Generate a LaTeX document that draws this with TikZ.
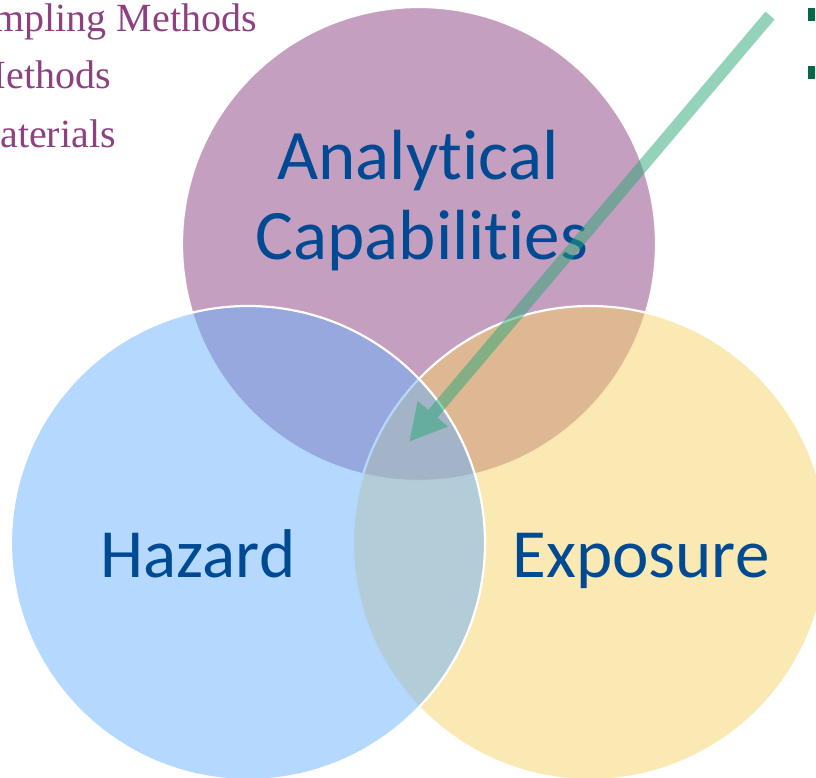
\documentclass[tikz,border=0pt]{standalone}
\usepackage{fontspec}
\setsansfont{Carlito}[Ligatures=NoCommon]
\newfontfamily\listfont{Liberation Serif}
\usetikzlibrary{arrows.meta}

\definecolor{topfill}{HTML}{8B3F7F}
\definecolor{leftfill}{HTML}{6BB1FD}
\definecolor{rightfill}{HTML}{F7D367}
\definecolor{labelblue}{HTML}{004A94}
\definecolor{listpurple}{HTML}{8E4181}
\definecolor{arrowgreen}{HTML}{29A775}
\definecolor{bulletgreen}{HTML}{006B45}

\begin{document}
\begin{tikzpicture}[x=1pt, y=-1pt,
  venn/.style={circle, draw=white, line width=2.2pt, fill opacity=0.5,
    minimum size=474pt, inner sep=0pt},
  toplabel/.style={font=\sffamily\fontsize{71}{79}\selectfont,
    text=labelblue, inner sep=0pt, anchor=base},
  sidelabel/.style={font=\sffamily\fontsize{69}{72}\selectfont,
    text=labelblue, inner sep=0pt, anchor=base},
  listtext/.style={font=\listfont\fontsize{40}{46}\selectfont,
    text=listpurple, inner sep=0pt, anchor=base east},
  bulletsq/.style={fill=bulletgreen, minimum width=7pt,
    minimum height=13pt, inner sep=0pt},
  pointer/.style={arrowgreen, line width=12pt,
    -{Triangle[width=37pt, length=37pt]}}
]
\useasboundingbox (0,0) rectangle (816,778);
\clip (0,0) rectangle (816,778);

% list text running in from the left
\node[listtext] (listA) at (257,32) {mpling Methods};
\node[listtext] (listB) at (111,89) {Methods};
\node[listtext] (listC) at (116,148) {Materials};

% the three overlapping circles
\node[venn, fill=topfill]   (capcircle) at (419,244) {};
\node[venn, fill=rightfill] (expcircle) at (590,543) {};
\node[venn, fill=leftfill]  (hazcircle) at (248,543) {};

% circle labels
\node[toplabel] (capA) at (418,180) {Analytical};
\node[toplabel] (capB) at (422,259) {Capabilities};
\node[sidelabel] (hazlabel) at (198,577) {Hazard};
\node[sidelabel] (explabel) at (641,577) {Exposure};

% bullets at the right edge
\node[bulletsq] (bulletA) at (811.5,14.5) {};
\node[bulletsq] (bulletB) at (811.5,73) {};

% pointer into the common centre
\coordinate (arrowtail) at (770,15.5);
\coordinate (arrowtip) at (409,442);
\begin{scope}[transparency group, opacity=0.5]
  \draw[pointer] (arrowtail) -- (arrowtip);
\end{scope}
\end{tikzpicture}
\end{document}
